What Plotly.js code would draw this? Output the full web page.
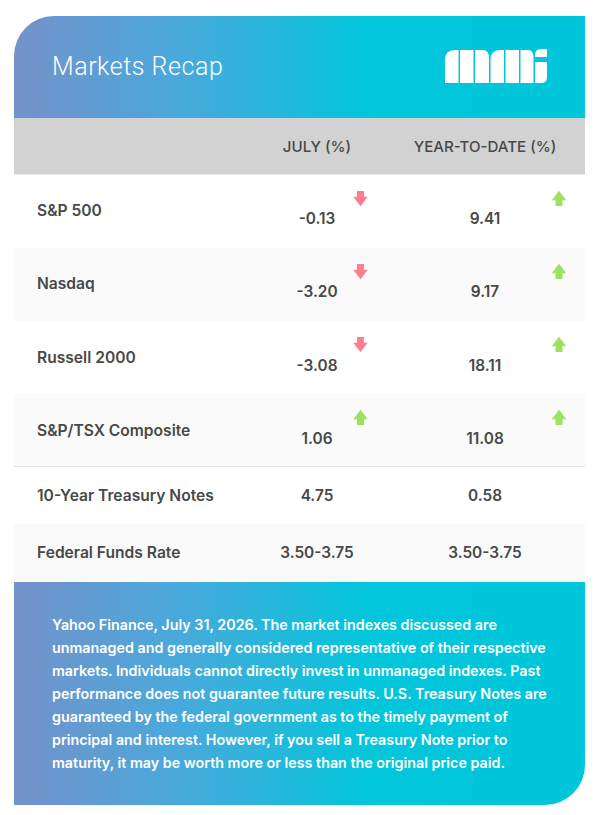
<!DOCTYPE html>
<html><head><meta charset="utf-8">
<script src="https://cdn.plot.ly/plotly-3.0.1.min.js"></script>
<style>html,body{margin:0;padding:0;background:#fff}#c{width:600px;height:815px}.annotation-text{letter-spacing:.55px}</style>
</head><body><div id="c"></div>
<script>
const titleText = "Markets Recap";
const columnHeaders = ["JULY (%)", "YEAR-TO-DATE (%)"];
const rowLabels = ["S&P 500", "Nasdaq", "Russell 2000", "S&P/TSX Composite", "10-Year Treasury Notes", "Federal Funds Rate"];
const julyValues = ["-0.13", "-3.20", "-3.08", "1.06", "4.75", "3.50-3.75"];
const ytdValues = ["9.41", "9.17", "18.11", "11.08", "0.58", "3.50-3.75"];
const footnoteLines = [
 "Yahoo Finance, July 31, 2026. The market indexes discussed are",
 "unmanaged and generally considered representative of their respective",
 "markets. Individuals cannot directly invest in unmanaged indexes. Past",
 "performance does not guarantee future results. U.S. Treasury Notes are",
 "guaranteed by the federal government as to the timely payment of",
 "principal and interest. However, if you sell a Treasury Note prior to",
 "maturity, it may be worth more or less than the original price paid."
];

// layout geometry
const cardL = 14, cardR = 585;
const rowTops = [175, 248, 321, 394, 467, 524];
const rowBottoms = [248, 321, 394, 466, 524, 582];
const rowFills = ["#ffffff", "#fafafa", "#ffffff", "#fafafa", "#ffffff", "#fafafa"];
const labelY = [212, 285, 359, 432, 497, 554];
const valueY = [220, 293, 367, 440, 497, 554];
const arrowY = [198.5, 271.5, 344.5, 417.5];
const julyX = 317, ytdX = 485, julyArrowX = 360.5, ytdArrowX = 559;
const footY = [626, 649, 672, 695, 718, 741, 764];
const ink = "#484848", red = "#ff7f90", green = "#9ce25f";

const bg = `<svg xmlns="http://www.w3.org/2000/svg" width="600" height="815" viewBox="0 0 600 815">
<defs><linearGradient id="g" gradientUnits="userSpaceOnUse" x1="14" y1="0" x2="585" y2="0">
<stop offset="0" stop-color="#7591cb"/><stop offset="0.3" stop-color="#47aadc"/><stop offset="0.62" stop-color="#02c6db"/><stop offset="1" stop-color="#00c6db"/>
</linearGradient></defs>
<path fill="url(#g)" d="M14 118V56A40 40 0 0 1 54 16H585V118Z"/>
<path fill="url(#g)" d="M14 582H585V765A40 40 0 0 1 545 805H14Z"/>
</svg>`;

const logoPath = [
 "M445 83V60Q445 50 455 50H458.5V83Z",
 "M460 83V50H473.5V83Z",
 "M475 83V50H483Q489 50 489 58V83Z",
 "M490.5 83V60Q490.5 50 500 50H504V83Z",
 "M505.5 83V50H519V83Z",
 "M520.5 83V50H528Q533.5 50 533.5 58V83Z",
 "M535 83V62H547V77Q547 83 541 83Z",
 "M535 57V55Q535 49 541 49H547V57Z"
];

const shapes = [];
rowLabels.forEach((_, i) => shapes.push({type:"rect", layer:"below", x0:cardL, x1:cardR, y0:rowTops[i], y1:rowBottoms[i], fillcolor:rowFills[i], line:{width:0}}));
shapes.push({type:"rect", layer:"below", x0:cardL, x1:cardR, y0:118, y1:174.5, fillcolor:"#d2d2d2", line:{width:0}});
shapes.push({type:"line", layer:"below", x0:cardL, x1:cardR, y0:466.5, y1:466.5, line:{color:"#e4e4e4", width:1}});
logoPath.forEach(p => shapes.push({type:"path", path:p, fillcolor:"#ffffff", line:{width:0}}));

const f = "Inter, 'Noto Sans', sans-serif";
const txt = (x, y, t, pos, size, color, weight) => ({type:"scatter", mode:"text", x, y, text:t, textposition:pos,
  textfont:{family:f, size, color, weight}, hoverinfo:"skip", cliponaxis:false});

const arrowDirUp = [[false,true],[false,true],[false,true],[true,true]];
const upX=[],upY=[],dnX=[],dnY=[];
arrowY.forEach((y,i)=>{
  [julyArrowX,ytdArrowX].forEach((x,j)=>{
    if(arrowDirUp[i][j]){upX.push(x);upY.push(y);} else {dnX.push(x);dnY.push(y);}
  });
});
const mk = (x,y,sym,size,color)=>({type:"scatter",mode:"markers",x,y,hoverinfo:"skip",
  marker:{symbol:sym,size,color,line:{width:0}}});

const data = [
  txt(rowLabels.map(()=>37), labelY, rowLabels, "middle right", 15.6, ink, 600),
  txt(rowLabels.map(()=>julyX), valueY, julyValues, "middle center", 15.4, ink, 600),
  txt(rowLabels.map(()=>ytdX), valueY, ytdValues, "middle center", 15.4, ink, 600),
  txt([julyX, ytdX], [148,148], columnHeaders, "middle center", 15.1, ink, 500),
  txt(footY.map(()=>52), footY, footnoteLines, "middle right", 14.3, "#ffffff", 600),
  mk(upX, upY.map(y=>y-1.5), "triangle-up", 12.5, green),
  mk(upX, upY.map(y=>y+4), "square", 7, green),
  mk(dnX, dnY.map(y=>y+1.5), "triangle-down", 12.5, red),
  mk(dnX, dnY.map(y=>y-4), "square", 7, red)
];

const layout = {
  width:600, height:815, autosize:false, showlegend:false,
  margin:{l:0,r:0,t:0,b:0,pad:0},
  paper_bgcolor:"#ffffff", plot_bgcolor:"#ffffff",
  xaxis:{range:[0,600], visible:false, fixedrange:true},
  yaxis:{range:[815,0], visible:false, fixedrange:true},
  shapes,
  images:[{source:"data:image/svg+xml;charset=utf-8,"+encodeURIComponent(bg), xref:"paper", yref:"paper", x:0, y:1, sizex:1, sizey:1, sizing:"stretch", xanchor:"left", yanchor:"top", layer:"below"}],
  annotations:[{text:titleText, x:50, y:66.5, xref:"x", yref:"y", xanchor:"left", yanchor:"middle", showarrow:false, font:{family:"Roboto, Inter, sans-serif", size:25, color:"#ffffff", weight:300}}]
};
Plotly.newPlot("c", data, layout, {displayModeBar:false, staticPlot:true});
</script></body></html>
